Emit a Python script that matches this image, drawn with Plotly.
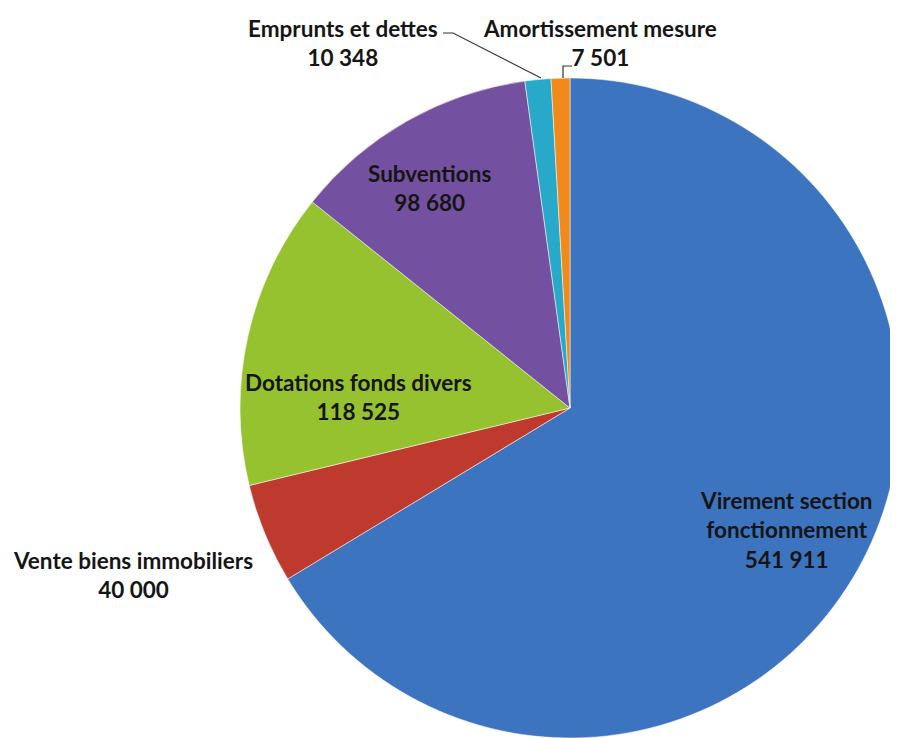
import plotly.graph_objects as go

labels = ["Virement section fonctionnement", "Vente biens immobiliers", "Dotations fonds divers",
          "Subventions", "Emprunts et dettes", "Amortissement mesure"]
label_lines = ["Virement section<br>fonctionnement", "Vente biens immobiliers", "Dotations fonds divers",
               "Subventions", "Emprunts et dettes", "Amortissement mesure"]
values = [541911, 40000, 118525, 98680, 10348, 7501]
colors = ["#3d74c0", "#bf3a2e", "#97c230", "#7351a0", "#29a9c9", "#f08a1a"]

W, H = 898, 738
OFF = 8  # page body margin offset
cx, cy, r = 570 - OFF, 408 - OFF, 330

def fmt(v):
    return f"{v:,}".replace(",", " ")

def px(x, y):
    return (x - OFF) / W, 1 - (y - OFF) / H

fig = go.Figure(go.Pie(
    labels=labels, values=values, sort=False, direction="clockwise", rotation=0,
    marker=dict(colors=colors, line=dict(color="rgba(255,255,255,0.5)", width=1)),
    textinfo="none", hoverinfo="label+value", showlegend=False,
    domain=dict(x=[(cx - r) / W, (cx + r) / W], y=[1 - (cy + r) / H, 1 - (cy - r) / H]),
))

# label anchor positions (page pixels, center of text block)
pos = [(786, 530), (133, 575), (358, 397), (429, 188), (343, 43), (600, 43)]
font = dict(family="Lato", size=22.5, color="#151515")
ann = []
for lab, v, (x, y) in zip(label_lines, values, pos):
    ax, ay = px(x, y)
    ann.append(dict(x=ax, y=ay, xref="paper", yref="paper",
                    text=f"<b>{lab}<br>{fmt(v)}</b>", showarrow=False,
                    font=font, align="center", xanchor="center", yanchor="middle"))

shapes = []
# leader line Emprunts et dettes
x0, y0 = px(443, 33); x1, y1 = px(453, 33); x2, y2 = px(541, 78)
shapes.append(dict(type="path", xref="paper", yref="paper",
                   path=f"M {x0} {y0} L {x1} {y1} L {x2} {y2}", line=dict(color="#333", width=1.2)))
# leader line Amortissement mesure
a0, b0 = px(572, 66); a1, b1 = px(563, 66); a2, b2 = px(563, 78)
shapes.append(dict(type="path", xref="paper", yref="paper",
                   path=f"M {a0} {b0} L {a1} {b1} L {a2} {b2}", line=dict(color="#333", width=1.2)))

fig.update_layout(width=W, height=H, margin=dict(l=0, r=0, t=0, b=0),
                  paper_bgcolor="white", plot_bgcolor="white",
                  annotations=ann, shapes=shapes)
fig.write_html("out.html")
